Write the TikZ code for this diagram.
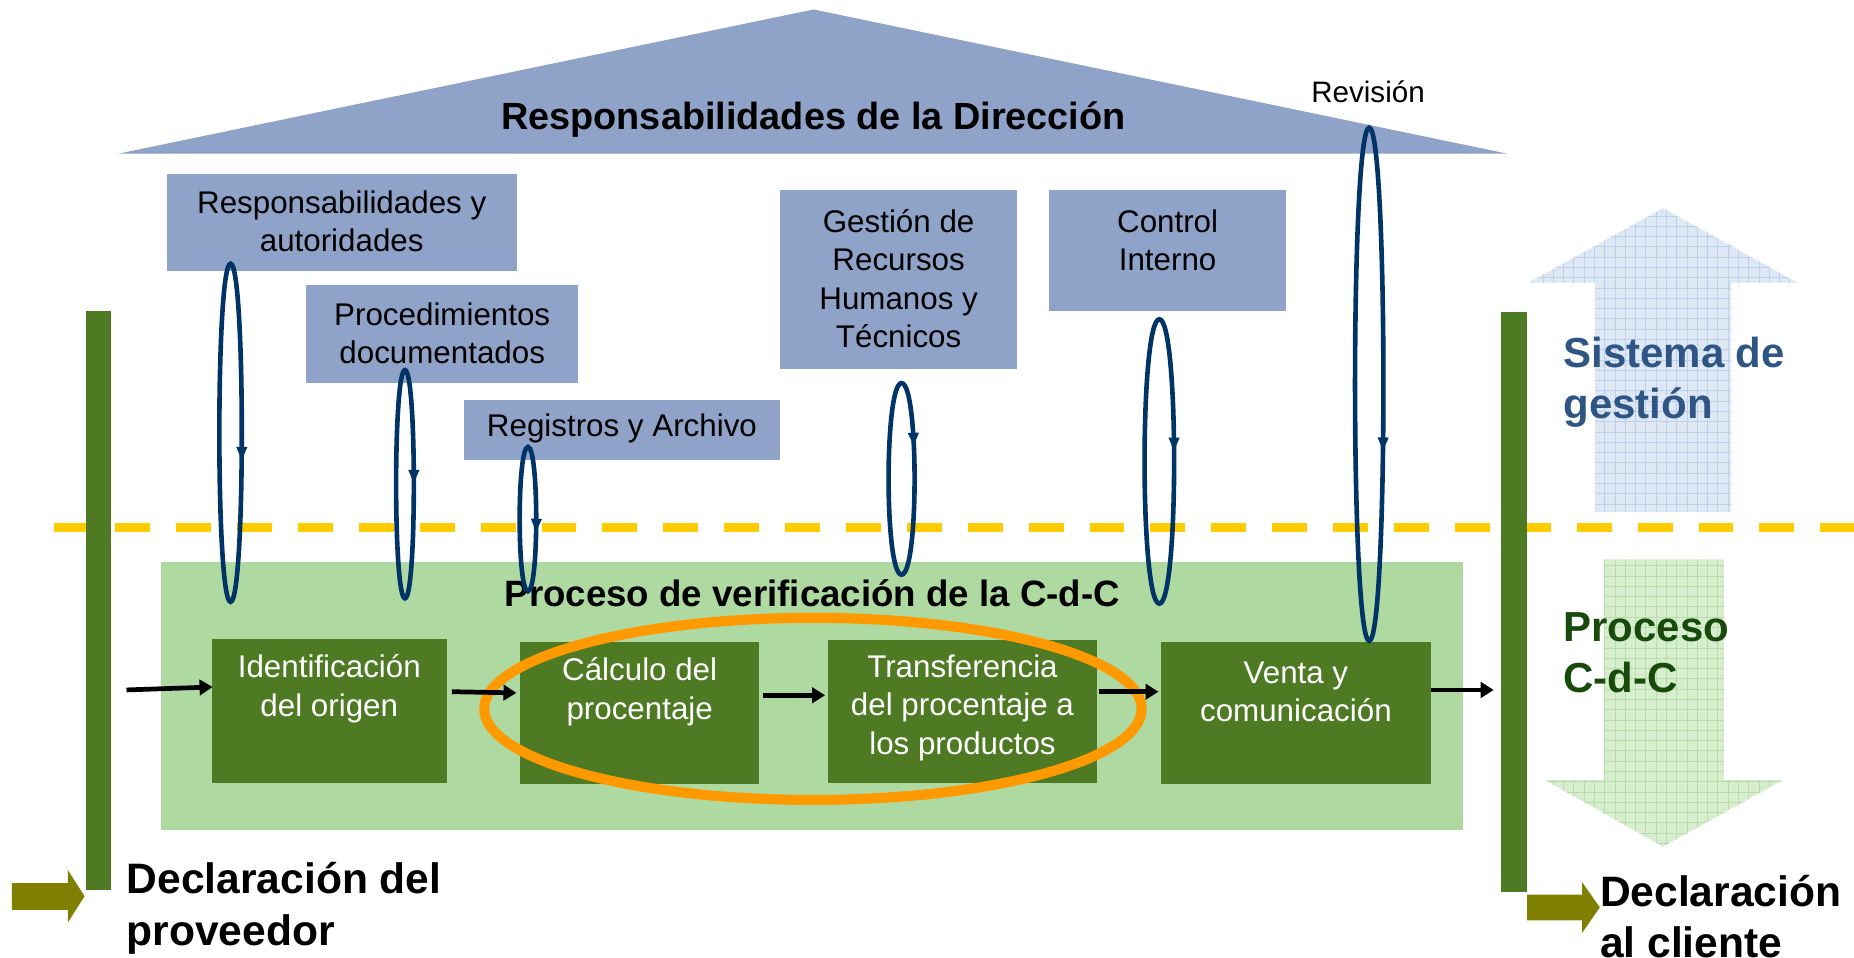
\documentclass[tikz,border=0pt]{standalone}
\usepackage{fontspec}
\setmainfont{Liberation Sans}
\usetikzlibrary{arrows.meta,decorations.markings,calc}
\definecolor{roof}{HTML}{8FA2C8}
\definecolor{dgreen}{HTML}{4E7A23}
\definecolor{lgreen}{HTML}{AED9A0}
\definecolor{navy}{HTML}{003366}
\definecolor{orng}{HTML}{FF9900}
\definecolor{yel}{HTML}{FFCC00}
\definecolor{olivec}{HTML}{808000}
\definecolor{sisblue}{HTML}{2E5583}
\definecolor{procgreen}{HTML}{184A0C}
\definecolor{upfill}{HTML}{DDE8F4}
\definecolor{upgrid}{HTML}{BCD0E9}
\definecolor{dnfill}{HTML}{D6EDCE}
\definecolor{dngrid}{HTML}{B6DCA8}
\newcommand\myloop[5]{%
  \draw[loopline, postaction={decorate, decoration={markings,
      mark=at position #5 with {\arrow{Latex[length=14pt,width=10pt]}}}}]
    (#1,#2) .. controls (#1+1.333*#4,#2) and (#1+1.333*#4,#3) .. (#1,#3)
            .. controls (#1-1.333*#4,#3) and (#1-1.333*#4,#2) .. cycle;}
\begin{document}
\begin{tikzpicture}[x=1pt,y=-1pt,
  bluebox/.style={fill=roof, draw=none, inner sep=0pt},
  greenbox/.style={fill=dgreen, draw=none, inner sep=0pt},
  btxt/.style={align=center, inner sep=0pt, font=\fontsize{26.5}{32.5}\selectfont},
  wtxt/.style={btxt, text=white},
  flow/.style={line width=4pt, -{Triangle[length=11pt,width=13pt]}},
  loopline/.style={draw=navy, line width=3.9pt},
  bigtxt/.style={anchor=west, align=left, inner sep=0pt, font=\bfseries\fontsize{35.5}{43}\selectfont},
]
\useasboundingbox (0,0) rectangle (1568,809.4);
\fill[white] (0,0) rectangle (1568,809.4);

% roof
\fill[roof] (100,130) -- (688,8) -- (1275,130) -- cycle;
\node[inner sep=0pt, font=\bfseries\fontsize{32}{37}\selectfont] (title) at (688,101) {Responsabilidades de la Dirección};
\node[inner sep=0pt, font=\fontsize{25}{29}\selectfont] (rev) at (1157,78) {Revisión};

% management boxes
\node[bluebox, minimum width=296pt, minimum height=82pt] (rya) at (289,188) {};
\node[btxt] at (289,187) {Responsabilidades y\\autoridades};
\node[bluebox, minimum width=230pt, minimum height=83pt] (proc) at (374,282.5) {};
\node[btxt] at (374,282) {Procedimientos\\documentados};
\node[bluebox, minimum width=268pt, minimum height=51pt] (reg) at (526,363.5) {};
\node[btxt] at (526,362) {Registros y Archivo};
\node[bluebox, minimum width=200pt, minimum height=151pt] (ges) at (760,236.5) {};
\node[btxt] at (760,235.5) {Gestión de\\Recursos\\Humanos y\\Técnicos};
\node[bluebox, minimum width=201pt, minimum height=102pt] (ctrl) at (987.5,212) {};
\node[btxt] at (987.5,203) {Control\\Interno};

% big arrows on the right
\begin{scope}
  \clip (1349,433) -- (1349,239) -- (1293,239) -- (1406.5,176) -- (1520,239) -- (1464,239) -- (1464,433) -- cycle;
  \fill[upfill] (1280,170) rectangle (1530,440);
  \draw[upgrid, line width=0.8pt, step=8.7pt] (1280,170) grid (1530,440);
\end{scope}
\begin{scope}
  \clip (1356.5,473) -- (1458,473) -- (1458,659.5) -- (1508,659.5) -- (1406.5,716) -- (1306.5,659.5) -- (1356.5,659.5) -- cycle;
  \fill[dnfill] (1300,470) rectangle (1515,720);
  \draw[dngrid, line width=0.8pt, step=8.7pt] (1300,470) grid (1515,720);
\end{scope}

% dashed separator
\draw[yel, line width=7pt, dash pattern=on 29.5pt off 22pt] (46,446) -- (1568,446);

% vertical bars
\node[greenbox, minimum width=21.5pt, minimum height=489.5pt] (lbar) at (83.25,507.75) {};
\node[greenbox, minimum width=22pt, minimum height=490pt] (rbar) at (1280.5,509) {};

% process area
\node[fill=lgreen, inner sep=0pt, minimum width=1101pt, minimum height=227pt] (bg) at (686.5,588.5) {};
\node[inner sep=0pt, font=\bfseries\fontsize{31}{36}\selectfont] (ptitle) at (687,502) {Proceso de verificación de la C-d-C};

\node[greenbox, minimum width=199pt, minimum height=122pt] (ident) at (278.5,601) {};
\node[wtxt] at (278.5,582.5) {Identificación\\del origen};
\node[greenbox, minimum width=202pt, minimum height=120pt] (calc) at (541,603) {};
\node[wtxt] at (541,585) {Cálculo del\\procentaje};
\node[greenbox, minimum width=228pt, minimum height=121pt] (trans) at (814,601.5) {};
\node[wtxt] at (814,598.5) {Transferencia\\del procentaje a\\los productos};
\node[greenbox, minimum width=228pt, minimum height=120pt] (venta) at (1096,603) {};
\node[wtxt] at (1096,585) {Venta y\\comunicación};

% highlight
\draw[orng, line width=8.5pt] (687.5,599.5) ellipse [x radius=278, y radius=77];

% flow arrows
\coordinate (start) at (107,583.5);
\draw[flow] (start) -- ($(ident.west)+(1,-20)$);
\draw[flow] ($(ident.east)+(4,-16)$) -- ($(calc.west)+(-3,-17)$);
\draw[flow] ($(calc.east)+(3,-15)$) -- ($(trans.west)+(-2,-13.5)$);
\draw[flow] ($(trans.east)+(1,-16.5)$) -- ($(venta.west)+(-2,-18)$);
\draw[flow] ($(venta.east)+(0,-19.5)$) -- ($(venta.east -| rbar.west)+(-6,-19.5)$);

% feedback loops
\myloop{195}{223}{509}{9.5}{0.295}
\myloop{342.5}{313}{506}{7.5}{0.255}
\myloop{446.5}{378}{500}{7}{0.305}
\myloop{762.5}{324}{486}{11}{0.175}
\myloop{980.5}{270}{510.5}{12.5}{0.2375}
\myloop{1158}{108}{542}{12}{0.3175}

% side labels
\node[bigtxt, text=sisblue] (sis) at (1322,323) {Sistema de\\gestión};
\node[bigtxt, text=procgreen] (pcdc) at (1322,552) {Proceso\\C-d-C};

% olive arrows
\fill[olivec] (10,746.8) -- (57.5,746.8) -- (57.5,736) -- (71.5,758) -- (57.5,780) -- (57.5,769.4) -- (10,769.4) -- cycle;
\fill[olivec] (1291.5,756.7) -- (1338,756.7) -- (1338,746) -- (1353,767.4) -- (1338,789) -- (1338,778.4) -- (1291.5,778.4) -- cycle;

\node[bigtxt, font=\bfseries\fontsize{36}{44}\selectfont] (decp) at (107,768) {Declaración del\\proveedor};
\node[bigtxt, font=\bfseries\fontsize{36}{43}\selectfont] (decc) at (1353,775) {Declaración\\al cliente};
\end{tikzpicture}
\end{document}
